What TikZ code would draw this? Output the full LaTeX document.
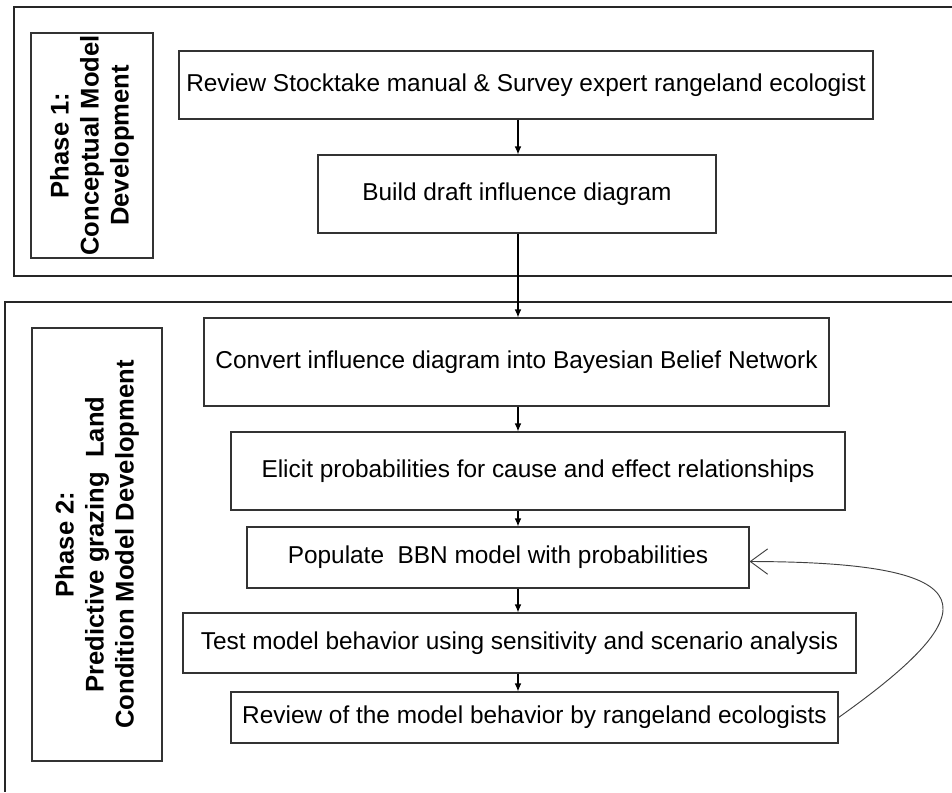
\documentclass[tikz,border=0pt]{standalone}
\usepackage{fontspec}
\setmainfont{Liberation Sans}
\usetikzlibrary{arrows.meta}
\begin{document}
\begin{tikzpicture}[x=0.75pt,y=-0.75pt,>={Latex[length=6pt,width=5pt]},line join=miter,
	font=\fontsize{18.3}{21}\selectfont,
	stepbox/.style={draw=black!80,line width=0.8pt,inner sep=0pt,align=center},
	phasebox/.style={stepbox,rotate=90,font=\fontsize{19.2}{22.5}\selectfont\bfseries}]
	\useasboundingbox (0,0) rectangle (952,792);
	\draw[line width=0.8pt,black!85] (952,7) -- (14,7) -- (14,276) -- (952,276);
	\draw[line width=0.8pt,black!85] (952,302) -- (5,302) -- (5,792);
	\node[phasebox,minimum width=168.75pt,minimum height=91.5pt] (ph1) at (92,145.5) {Phase 1:\\Conceptual Model\\Development};
	\node[phasebox,minimum width=324.75pt,minimum height=97.5pt] (ph2) at (97,544.5) {Phase 2:\\Predictive grazing\ \ Land\\Condition Model Development};
	\node[stepbox,minimum width=520.5pt,minimum height=51pt] (rev) at (526,85) {Review Stocktake manual \& Survey expert rangeland ecologist};
	\node[stepbox,minimum width=298.5pt,minimum height=58.5pt] (bld) at (517,194) {Build draft influence diagram};
	\node[stepbox,minimum width=468.75pt,minimum height=66pt] (cnv) at (516.5,362) {Convert influence diagram into Bayesian Belief Network};
	\node[stepbox,minimum width=460.5pt,minimum height=58.5pt] (eli) at (538,471) {Elicit probabilities for cause and effect relationships};
	\node[stepbox,minimum width=376.5pt,minimum height=45.75pt] (pop) at (498,557.5) {Populate\ \ BBN model with probabilities};
	\node[stepbox,minimum width=504.75pt,minimum height=45pt] (tst) at (519.5,643) {Test model behavior using sensitivity and scenario analysis};
	\node[stepbox,minimum width=455.25pt,minimum height=38.25pt] (rvw) at (534.5,717.5) {Review of the model behavior by rangeland ecologists};
	\coordinate (ax) at (518,0);
	\draw[->,line width=0.8pt] (rev.south -| ax) -- (bld.north -| ax);
	\draw[->,line width=0.8pt] (bld.south -| ax) -- (cnv.north -| ax);
	\draw[->,line width=0.8pt] (cnv.south -| ax) -- (eli.north -| ax);
	\draw[->,line width=0.8pt] (eli.south -| ax) -- (pop.north -| ax);
	\draw[->,line width=0.8pt] (pop.south -| ax) -- (tst.north -| ax);
	\draw[->,line width=0.8pt] (tst.south -| ax) -- (rvw.north -| ax);
	\draw[-{Straight Barb[length=13pt,width=19pt]},black!75,line width=0.7pt] (rvw.east) .. controls (990,610) and (990,562) .. ([yshift=-3pt]pop.east);
\end{tikzpicture}
\end{document}
